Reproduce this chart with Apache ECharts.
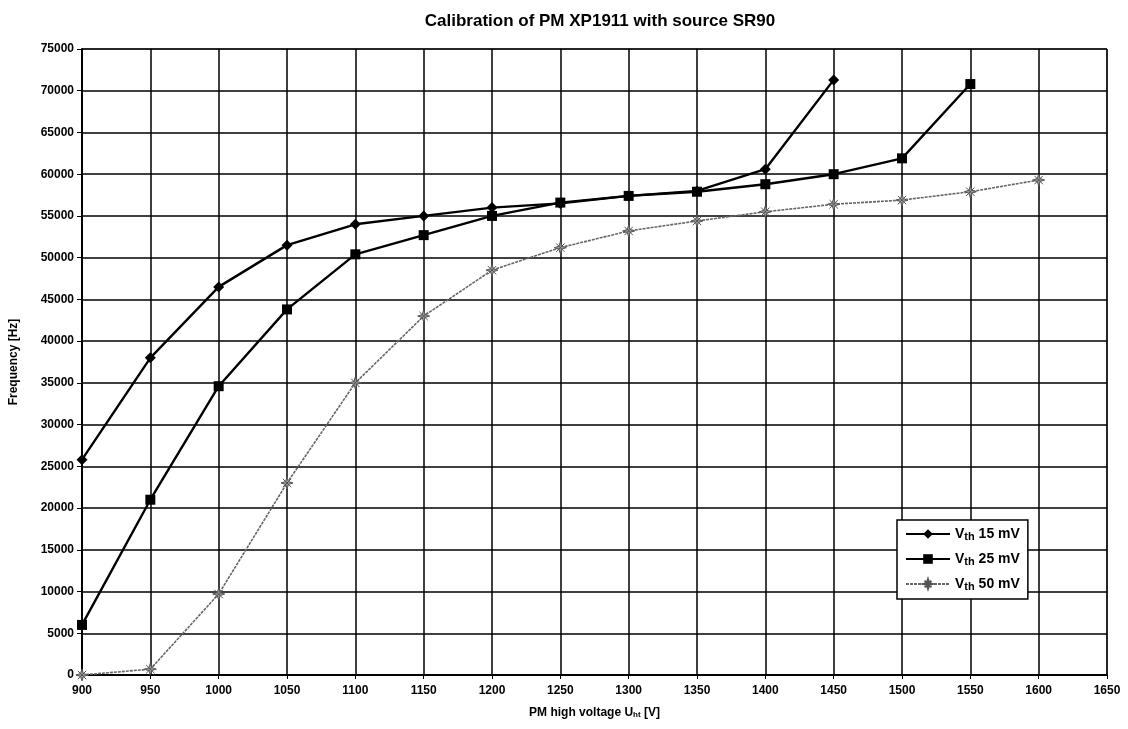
<!DOCTYPE html>
<html><head><meta charset="utf-8">
<script src="https://cdn.jsdelivr.net/npm/echarts@6/dist/echarts.min.js"></script>
<style>html,body{margin:0;padding:0;background:#fff}#c{width:1128px;height:729px}</style>
</head><body><div id="c"></div>
<script>
const voltages = [900, 950, 1000, 1050, 1100, 1150, 1200, 1250, 1300, 1350, 1400, 1450, 1500, 1550, 1600];
const vth15 = [25800, 38000, 46500, 51500, 54000, 55000, 56000, 56500, 57400, 58000, 60600, 71300];
const vth25 = [6000, 21000, 34600, 43800, 50400, 52700, 55000, 56600, 57400, 57900, 58800, 60000, 61900, 70800];
const vth50 = [0, 700, 9700, 23000, 35000, 43000, 48500, 51200, 53200, 54400, 55500, 56400, 56900, 57900, 59300];
const seriesNames = ['15 mV', '25 mV', '50 mV'];
const xTicks = {min: 900, max: 1650, step: 50};
const yTicks = {min: 0, max: 75000, step: 5000};

function pairs(vals){ return vals.map((v,i)=>[voltages[i], v]); }
const starPath = 'path://M5,0 L6.2,3.8 L10,5 L6.2,6.2 L5,10 L3.8,6.2 L0,5 L3.8,3.8 Z M1.5,1.5 L8.5,8.5 M8.5,1.5 L1.5,8.5';
const chart = echarts.init(document.getElementById('c'));
const font = 'Liberation Sans, Arial, sans-serif';
chart.setOption({
  backgroundColor: '#fff',
  animation: false,
  title: {
    text: 'Calibration of PM XP1911 with source SR90',
    left: 595, top: 8, textAlign: 'center',
    textStyle: {fontFamily: font, fontSize: 17, fontWeight: 'bold', color: '#000'}
  },
  grid: {left: 80, right: 21, top: 49, bottom: 54, show: true, borderColor: '#333', borderWidth: 1},
  legend: {
    orient: 'vertical', left: 897, top: 520,
    backgroundColor: '#fff', borderColor: '#000', borderWidth: 1.5, padding: [7, 8, 7, 8],
    itemGap: 10, itemWidth: 44, itemHeight: 12,
    data: seriesNames,
    formatter: n => '{v|V}{s|th}{v| ' + n + '}',
    textStyle: {
      fontFamily: font, color: '#000',
      rich: {v: {fontSize: 14, fontWeight: 'bold', fontFamily: font}, s: {fontSize: 11, fontWeight: 'bold', fontFamily: font, verticalAlign: 'bottom', padding: [5,0,0,0]}}
    }
  },
  xAxis: {
    type: 'value', min: xTicks.min, max: xTicks.max, interval: xTicks.step,
    name: '{a|PM high voltage U}{b|ht}{a| [V]}', nameLocation: 'middle', nameGap: 32,
    nameTextStyle: {rich: {a: {fontFamily: font, fontSize: 12, fontWeight: 'bold', color: '#000'}, b: {fontFamily: font, fontSize: 8, fontWeight: 'bold', color: '#000', verticalAlign: 'bottom', padding: [4,0,0,0]}}},
    axisLine: {lineStyle: {color: '#000', width: 2}},
    axisTick: {show: true, length: 4, lineStyle: {color: '#000'}},
    axisLabel: {fontFamily: font, fontSize: 12, fontWeight: 'bold', color: '#000', margin: 10, formatter: v => String(v)},
    splitLine: {show: true, lineStyle: {color: '#000', width: 1.5}}
  },
  yAxis: {
    type: 'value', min: yTicks.min, max: yTicks.max, interval: yTicks.step,
    name: 'Frequency [Hz]', nameLocation: 'middle', nameGap: 62,
    nameTextStyle: {fontFamily: font, fontSize: 12, fontWeight: 'bold', color: '#000'},
    axisLine: {show: true, lineStyle: {color: '#000', width: 2}},
    axisTick: {show: true, length: 5, lineStyle: {color: '#000'}},
    axisLabel: {fontFamily: font, fontSize: 12, fontWeight: 'bold', color: '#000', margin: 8, formatter: v => String(v)},
    splitLine: {show: true, lineStyle: {color: '#000', width: 1.5}}
  },
  series: [
    {name: seriesNames[0], type: 'line', data: pairs(vth15), symbol: 'diamond', symbolSize: 11,
     lineStyle: {color: '#000', width: 2.4}, itemStyle: {color: '#000'}},
    {name: seriesNames[1], type: 'line', data: pairs(vth25), symbol: 'rect', symbolSize: 10,
     lineStyle: {color: '#000', width: 2.4}, itemStyle: {color: '#000'}},
    {name: seriesNames[2], type: 'line', data: pairs(vth50), symbol: starPath, symbolSize: 12,
     lineStyle: {color: '#666', width: 1.6, type: [3, 1]}, itemStyle: {color: '#999', borderColor: '#555', borderWidth: 1}}
  ]
});
</script></body></html>
